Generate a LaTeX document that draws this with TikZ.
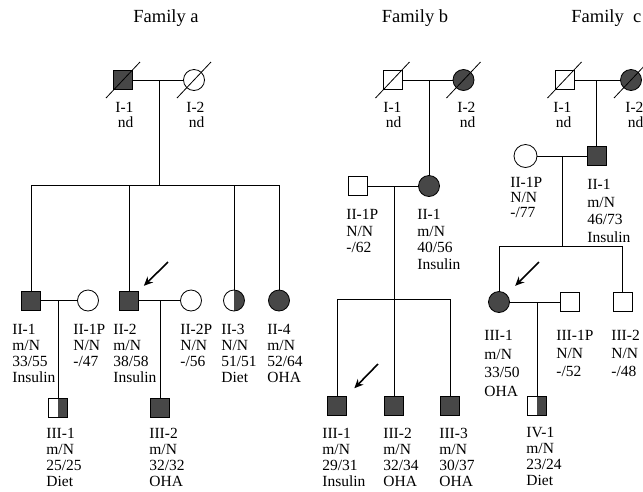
\documentclass[tikz,border=0pt]{standalone}
\usepackage{fontspec}
\setmainfont{Liberation Serif}
\usetikzlibrary{arrows.meta}

\begin{document}
\begin{tikzpicture}[
	x=1pt, y=-1pt, line width=0.8pt,
	every node/.append style = {inner sep=0pt},
	title/.style = {anchor=base, font=\fontsize{18.5}{20}\selectfont},
	lab/.style = {align=left, anchor=north west, font=\fontsize{15.5}{#1}\selectfont},
	lab/.default = 16,
	male/.style = {draw, rectangle, minimum size=19pt, fill=white},
	female/.style = {draw, circle, minimum size=21pt, fill=white},
	aff/.style = {fill=black!72},
	half/.style = {path picture={\fill[black!72] (path picture bounding box.north) rectangle (path picture bounding box.south east);}},
	proband/.style = {line width=1.6pt, -{Stealth[length=9pt, width=8pt]}}
]
\useasboundingbox (0,0) rectangle (643,491);

% titles
\node[title] (ta) at (166,22) {Family a};
\node[title] (tb) at (415,22) {Family b};
\node[title, anchor=base west] (tc) at (571,22) {Family\ \ c};

% family a
\node[male, aff] (a11) at (123,80) {};
\node[female] (a12) at (194,80) {};
\node[male, aff] (a21) at (31,300.5) {};
\node[female] (a21p) at (88,300.5) {};
\node[male, aff] (a22) at (129,300.5) {};
\node[female] (a22p) at (191,300.5) {};
\node[female, half] (a23) at (234,300.5) {};
\node[female, aff] (a24) at (279,300.5) {};
\node[male, half] (a31) at (58,408) {};
\node[male, aff] (a32) at (160,408) {};
\coordinate (am) at (159,80);
\coordinate (asib) at (159,185);
\coordinate (a2m1) at (58,300.5);
\coordinate (a2m2) at (160,300.5);
\coordinate (aarr) at (168,262);

\draw (a11) -- (a12);
\draw (am) -- (asib);
\draw (a21 |- asib) -- (a24 |- asib);
\foreach \n in {a21,a22,a23,a24}
	\draw (\n |- asib) -- (\n);
\draw (a21) -- (a21p);
\draw (a22) -- (a22p);
\draw (a2m1) -- (a31);
\draw (a2m2) -- (a32);
\draw[proband, shorten >=7pt] (aarr) -- (a22);

\node[lab] (a11l) at (115,102) {I-1\\[-1pt]\,nd};
\node[lab] (a12l) at (186,102) {I-2\\[-1pt]\,nd};
\node[lab] (a21l) at (12,324) {II-1\\m/N\\33/55\\Insulin};
\node[lab] (a21pl) at (73,324) {II-1P\\N/N\\-/47};
\node[lab] (a22l) at (113,324) {II-2\\m/N\\38/58\\Insulin};
\node[lab] (a22pl) at (180,324) {II-2P\\N/N\\-/56};
\node[lab] (a23l) at (221,324) {II-3\\N/N\\51/51\\Diet};
\node[lab] (a24l) at (267,324) {II-4\\m/N\\52/64\\OHA};
\node[lab] (a31l) at (46,428) {III-1\\m/N\\25/25\\Diet};
\node[lab] (a32l) at (149,428) {III-2\\m/N\\32/32\\OHA};

% family b
\node[male] (b11) at (392.5,80) {};
\node[female, aff] (b12) at (463.5,80) {};
\node[male] (b21p) at (358,186) {};
\node[female, aff] (b21) at (429,186) {};
\node[male, aff] (b31) at (337,406) {};
\node[male, aff] (b32) at (394,406) {};
\node[male, aff] (b33) at (450,406) {};
\coordinate (bm) at (429,80);
\coordinate (b2m) at (394,186);
\coordinate (bsib) at (394,299);
\coordinate (barr) at (378,364);

\draw (b11) -- (b12);
\draw (bm) -- (b21);
\draw (b21p) -- (b21);
\draw (b2m) -- (b32);
\draw (b31 |- bsib) -- (b33 |- bsib);
\draw (b31 |- bsib) -- (b31);
\draw (b33 |- bsib) -- (b33);
\draw[proband, shorten >=11pt] (barr) -- (b31);

\node[lab] (b11l) at (383,102) {I-1\\[-1pt]\,nd};
\node[lab] (b12l) at (457,102) {I-2\\[-1pt]\,nd};
\node[lab=16.5] (b21pl) at (346,209) {II-1P\\N/N\\-/62};
\node[lab=16.5] (b21l) at (417,209) {II-1\\m/N\\40/56\\Insulin};
\node[lab] (b31l) at (322,428) {III-1\\m/N\\29/31\\Insulin};
\node[lab] (b32l) at (383,428) {III-2\\m/N\\32/34\\OHA};
\node[lab] (b33l) at (439,428) {III-3\\m/N\\30/37\\OHA};

% family c
\node[male] (c11) at (564.5,80) {};
\node[female, aff] (c12) at (631,80) {};
\node[female, minimum size=23pt] (c21p) at (525.5,156) {};
\node[male, aff] (c21) at (596.5,156) {};
\node[female, aff] (c31) at (499,302) {};
\node[male] (c31p) at (569.5,302) {};
\node[male] (c32) at (622.5,302) {};
\node[male, half] (c41) at (537,406) {};
\coordinate (cm) at (596.5,80);
\coordinate (c2m) at (562,156);
\coordinate (csib) at (562,246);
\coordinate (c3m) at (537,302);
\coordinate (carr) at (539,262);

\draw (c11) -- (c12);
\draw (cm) -- (c21);
\draw (c21p) -- (c21);
\draw (c2m) -- (csib);
\draw (c31 |- csib) -- (c32 |- csib);
\draw (c31 |- csib) -- (c31);
\draw (c32 |- csib) -- (c32);
\draw (c31) -- (c31p);
\draw (c3m) -- (c41);
\draw[proband, shorten >=12pt] (carr) -- (c31);

\node[lab] (c11l) at (553,102) {I-1\\[-1pt]\,nd};
\node[lab] (c12l) at (625,102) {I-2\\[-1pt]\,nd};
\node[lab=15] (c21pl) at (510,177) {II-1P\\N/N\\-/77};
\node[lab=17.5] (c21l) at (587,179) {II-1\\m/N\\46/73\\Insulin};
\node[lab=18.5] (c31l) at (484,330) {III-1\\m/N\\33/50\\OHA};
\node[lab=18] (c31pl) at (556,330) {III-1P\\N/N\\-/52};
\node[lab=18] (c32l) at (611,330) {III-2\\N/N\\-/48};
\node[lab] (c41l) at (526,427) {IV-1\\m/N\\23/24\\Diet};

% deceased
\foreach \n in {a11,a12,b11,b12,c11,c12}
	\draw ([shift={(-17,18)}]\n.center) -- ([shift={(17,-18)}]\n.center);

\end{tikzpicture}
\end{document}
